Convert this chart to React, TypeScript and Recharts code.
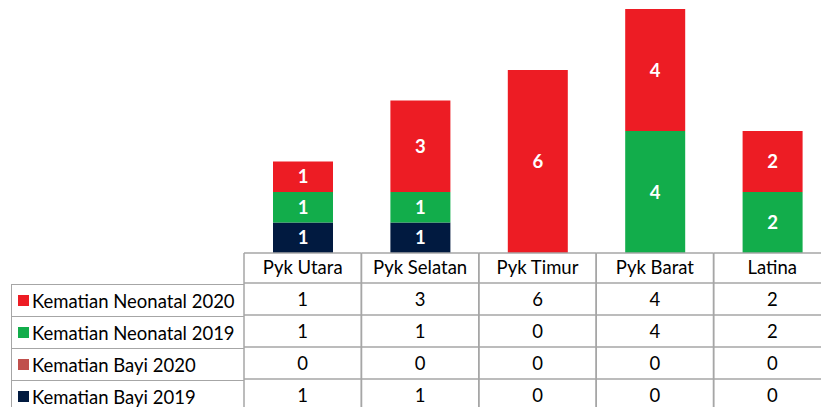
import { Bar, BarChart, XAxis, YAxis, Legend, LabelList } from "recharts";

const categories = ["Pyk Utara", "Pyk Selatan", "Pyk Timur", "Pyk Barat", "Latina"];
const bayi2019 = [1, 1, 0, 0, 0];
const bayi2020 = [0, 0, 0, 0, 0];
const neonatal2019 = [1, 1, 0, 4, 2];
const neonatal2020 = [1, 3, 6, 4, 2];

const seriesNames = {
  bayi2019: "Kematian Bayi 2019",
  bayi2020: "Kematian Bayi 2020",
  neonatal2019: "Kematian Neonatal 2019",
  neonatal2020: "Kematian Neonatal 2020",
};

const colors = {
  bayi2019: "#011A40",
  bayi2020: "#C0504D",
  neonatal2019: "#12AD4B",
  neonatal2020: "#ED1C24",
};

// table rows, top to bottom
const tableRows = [
  { key: "neonatal2020", values: neonatal2020 },
  { key: "neonatal2019", values: neonatal2019 },
  { key: "bayi2020", values: bayi2020 },
  { key: "bayi2019", values: bayi2019 },
];

const data = categories.map((name, i) => ({
  name,
  bayi2019: bayi2019[i],
  bayi2020: bayi2020[i],
  neonatal2019: neonatal2019[i],
  neonatal2020: neonatal2020[i],
}));

const FONT = "Lato, 'Open Sans', sans-serif";
const FS = 18.5;
const GRID = "#A6A6A6";
const CHART_W = 840;
const LEFT = 244;
const RIGHT = 9;
const BAND = (CHART_W - LEFT - RIGHT) / categories.length;
const HEADER_H = 30;
const ROW_H = 32;

function TableColumn(props: any) {
  const { x, y, payload } = props;
  const i = payload.index;
  const half = BAND / 2;
  const bottom = y + HEADER_H + ROW_H * tableRows.length + 20;
  return (
    <g>
      <line x1={x - half} x2={x + half} y1={y} y2={y} stroke={GRID} strokeWidth={1.5} />
      <line x1={x - half} x2={x - half} y1={y} y2={bottom} stroke={GRID} strokeWidth={1.5} />
      <line x1={x + half} x2={x + half} y1={y} y2={bottom} stroke={GRID} strokeWidth={1.5} />
      <text x={x} y={y + 21} textAnchor="middle" fontFamily={FONT} fontSize={FS} fill="#000">
        {payload.value}
      </text>
      {tableRows.map((row, r) => {
        const top = y + HEADER_H + ROW_H * r;
        return (
          <g key={row.key}>
            <line x1={x - half} x2={x + half} y1={top} y2={top} stroke={GRID} strokeWidth={1.5} />
            <text x={x} y={top + 23} textAnchor="middle" fontFamily={FONT} fontSize={FS} fill="#000">
              {row.values[i]}
            </text>
          </g>
        );
      })}
    </g>
  );
}

function LegendColumn() {
  return (
    <div style={{ position: "relative", width: LEFT, height: ROW_H * tableRows.length + 20 }}>
      {tableRows.map((row, r) => (
        <div
          key={row.key}
          style={{
            position: "absolute",
            left: 11,
            top: ROW_H * r,
            width: LEFT - 11,
            height: ROW_H,
            borderTop: `1.5px solid ${GRID}`,
            borderLeft: `1.5px solid ${GRID}`,
            boxSizing: "border-box",
            display: "flex",
            alignItems: "center",
            fontFamily: FONT,
            fontSize: FS,
            color: "#000",
            whiteSpace: "nowrap",
          }}
        >
          <span
            style={{
              display: "inline-block",
              width: 11,
              height: 11,
              background: colors[row.key as keyof typeof colors],
              marginLeft: 6,
              marginRight: 3,
            }}
          />
          {seriesNames[row.key as keyof typeof seriesNames]}
        </div>
      ))}
    </div>
  );
}

const hideZero = (v: any) => (v === 0 ? "" : v);

export default function App() {
  const stackKeys = ["bayi2019", "bayi2020", "neonatal2019", "neonatal2020"] as const;
  return (
    <div style={{ position: "absolute", left: 0, top: 0, width: 821, height: 407, overflow: "hidden", background: "#fff" }}>
      <BarChart
        width={CHART_W}
        height={430}
        data={data}
        margin={{ top: 9, right: RIGHT, bottom: 0, left: LEFT }}
      >
        <XAxis
          dataKey="name"
          height={177}
          axisLine={false}
          tickLine={false}
          tickSize={0}
          tickMargin={0}
          interval={0}
          tick={<TableColumn />}
        />
        <YAxis hide domain={[0, 8]} />
        <Legend
          layout="horizontal"
          verticalAlign="middle"
          align="center"
          wrapperStyle={{ position: "absolute", left: 0, top: 284, width: LEFT }}
          content={<LegendColumn />}
        />
        {stackKeys.map((k) => (
          <Bar
            key={k}
            dataKey={k}
            name={seriesNames[k]}
            stackId="a"
            fill={colors[k]}
            barSize={60}
            isAnimationActive={false}
          >
            <LabelList
              dataKey={k}
              position="center"
              formatter={hideZero}
              fill="#fff"
              fontFamily={FONT}
              fontWeight="bold"
              fontSize={FS}
            />
          </Bar>
        ))}
      </BarChart>
    </div>
  );
}
